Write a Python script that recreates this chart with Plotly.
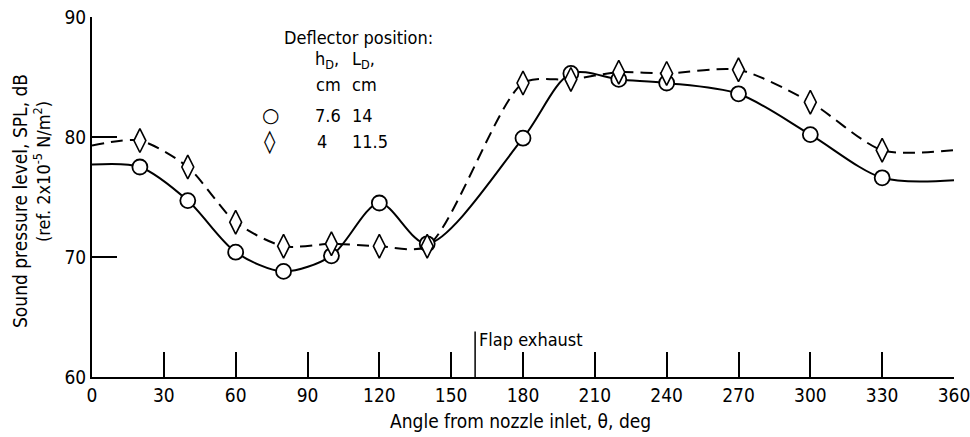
import plotly.graph_objects as go

# ---- data ----
angles = [20, 40, 60, 80, 100, 120, 140, 180, 200, 220, 240, 270, 300, 330]
spl_circle = [77.5, 74.7, 70.4, 68.8, 70.1, 74.5, 71.1, 79.9, 85.3, 84.8, 84.5, 83.6, 80.2, 76.6]
spl_diamond = [79.7, 77.5, 72.9, 70.9, 71.1, 70.9, 70.9, 84.5, 84.8, 85.4, 85.3, 85.6, 82.9, 78.9]

# faired-curve end values at 0 and 360 deg
curve_ends_circle = [77.7, 76.4]
curve_ends_diamond = [79.3, 78.9]

flap_exhaust_angle = 160
x_ticks = [0, 30, 60, 90, 120, 150, 180, 210, 240, 270, 300, 330, 360]
y_ticks = [60, 70, 80, 90]

FONT = "Liberation Sans Narrow, DejaVu Sans Condensed, Arial Narrow, sans-serif"

W, H = 970, 437
L, R, T, B = 92, 16, 17, 60
PW, PH = W - L - R, H - T - B


def px(xp):
    return (xp - L) / PW


def py(yp):
    return (H - B - yp) / PH


fig = go.Figure()

curve_x = [0] + angles + [360]
fig.add_trace(go.Scatter(
    x=curve_x, y=[curve_ends_circle[0]] + spl_circle + [curve_ends_circle[1]],
    mode="lines", line=dict(color="black", width=2, shape="spline", smoothing=0.85),
    showlegend=False, hoverinfo="skip"))
fig.add_trace(go.Scatter(
    x=curve_x, y=[curve_ends_diamond[0]] + spl_diamond + [curve_ends_diamond[1]],
    mode="lines", line=dict(color="black", width=2, dash="12px,7px", shape="spline", smoothing=0.75),
    showlegend=False, hoverinfo="skip"))
fig.add_trace(go.Scatter(
    x=angles, y=spl_circle, mode="markers",
    marker=dict(symbol="circle", size=15, color="white", line=dict(color="black", width=1.8)),
    showlegend=False))
fig.add_trace(go.Scatter(
    x=angles, y=spl_diamond, mode="markers",
    marker=dict(symbol="diamond-tall", size=17, color="white", line=dict(color="black", width=1.6)),
    showlegend=False))

# flap exhaust marker line
fig.add_shape(type="line", xref="x", yref="y", x0=flap_exhaust_angle, x1=flap_exhaust_angle,
              y0=60, y1=63.8, line=dict(color="black", width=1.5))

ann = []
tf = dict(family=FONT, size=18, color="black")
ann.append(dict(x=flap_exhaust_angle, y=63.1, xref="x", yref="y", text="Flap exhaust",
                showarrow=False, xanchor="left", yanchor="middle", xshift=2, font=tf))

# legend block
ann.append(dict(x=px(282), y=py(37), text="Deflector position:", xanchor="left", yanchor="middle", font=tf))
ann.append(dict(x=px(313), y=py(60), text="h<sub>D</sub>,", xanchor="left", yanchor="middle", font=tf))
ann.append(dict(x=px(350), y=py(60), text="L<sub>D</sub>,", xanchor="left", yanchor="middle", font=tf))
ann.append(dict(x=px(314), y=py(84), text="cm", xanchor="left", yanchor="middle", font=tf))
ann.append(dict(x=px(350), y=py(84), text="cm", xanchor="left", yanchor="middle", font=tf))
ann.append(dict(x=px(270), y=py(115), text="○", xanchor="center", yanchor="middle",
                font=dict(family="DejaVu Sans", size=20, color="black")))
ann.append(dict(x=px(313), y=py(115), text="7.6", xanchor="left", yanchor="middle", font=tf))
ann.append(dict(x=px(350), y=py(115), text="14", xanchor="left", yanchor="middle", font=tf))
ann.append(dict(x=px(270), y=py(141), text="◊", xanchor="center", yanchor="middle",
                font=dict(family="DejaVu Sans", size=23, color="black")))
ann.append(dict(x=px(315), y=py(141), text="4", xanchor="left", yanchor="middle", font=tf))
ann.append(dict(x=px(350), y=py(141), text="11.5", xanchor="left", yanchor="middle", font=tf))

# axis titles
ann.append(dict(x=px(20), y=py(201), text="Sound pressure level, SPL, dB", textangle=-90,
                xanchor="center", yanchor="middle", font=dict(family=FONT, size=19, color="black")))
ann.append(dict(x=px(42), y=py(172), text="(ref. 2x10<sup>-5</sup> N/m<sup>2</sup>)", textangle=-90,
                xanchor="center", yanchor="middle", font=tf))
ann.append(dict(x=px(520), y=py(421), text="Angle from nozzle inlet, θ, deg",
                xanchor="center", yanchor="middle", font=dict(family=FONT, size=19, color="black")))

for a in ann:
    a.setdefault("xref", "paper")
    a.setdefault("yref", "paper")
    a.setdefault("showarrow", False)

fig.update_layout(
    width=W, height=H,
    margin=dict(l=L, r=R, t=T, b=B, autoexpand=False),
    paper_bgcolor="white", plot_bgcolor="white",
    annotations=ann,
    font=dict(family=FONT, size=18, color="black"),
    xaxis=dict(range=[0, 360], tickvals=x_ticks, ticks="inside", ticklen=25, tickwidth=2,
               tickcolor="black", showline=True, linecolor="black", linewidth=2,
               showgrid=False, zeroline=False, automargin=False,
               ticklabeloverflow="allow", tickfont=dict(family=FONT, size=19)),
    yaxis=dict(range=[60, 90], tickvals=y_ticks, ticks="inside", ticklen=25, tickwidth=2,
               tickcolor="black", showline=True, linecolor="black", linewidth=2,
               showgrid=False, zeroline=False, automargin=False,
               ticklabeloverflow="allow", tickfont=dict(family=FONT, size=19)),
)

fig.write_html("out.html", config={"displayModeBar": False},
               post_script="document.body.style.margin='0';")
